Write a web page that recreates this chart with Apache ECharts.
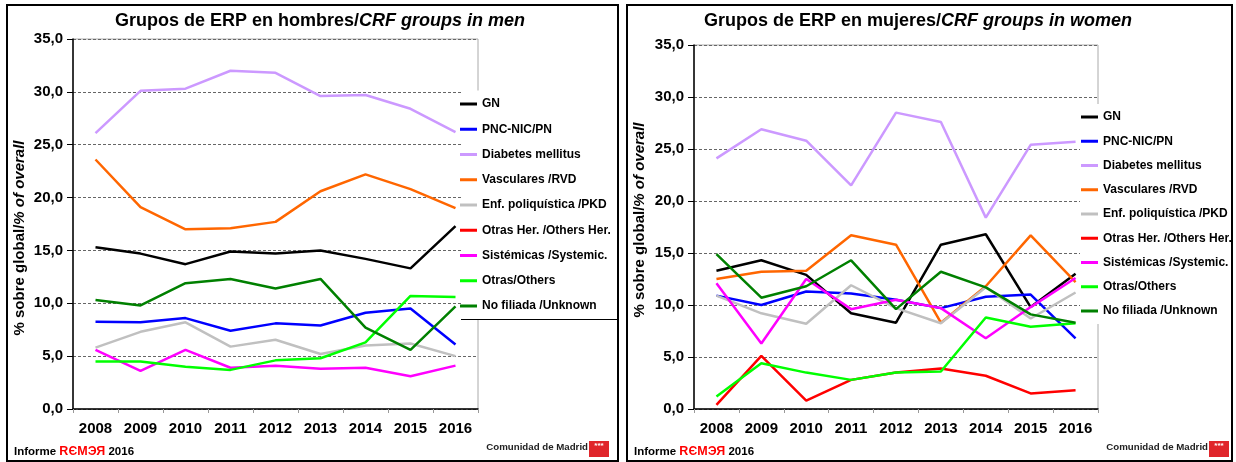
<!DOCTYPE html>
<html>
<head>
<meta charset="utf-8">
<script src="https://cdn.jsdelivr.net/npm/echarts@6/dist/echarts.min.js"></script>
<style>
  html, body { margin: 0; padding: 0; background: #fff; }
  #chart { width: 1236px; height: 462px; }
</style>
</head>
<body>
<div id="chart"></div>
<script>
// categorias (eje X)
const years = ['2008', '2009', '2010', '2011', '2012', '2013', '2014', '2015', '2016'];
const yTicks = [0, 5, 10, 15, 20, 25, 30, 35];

const groupNames = ['GN', 'PNC-NIC/PN', 'Diabetes mellitus', 'Vasculares /RVD', 'Enf. poliquística /PKD',
  'Otras Her. /Others Her.', 'Sistémicas /Systemic.', 'Otras/Others', 'No filiada /Unknown'];
const groupColors = ['#000000', '#0000ff', '#cc99ff', '#ff6600', '#c0c0c0', '#ff0000', '#ff00ff', '#00ff00', '#008000'];

// hombres / men
const menGN = [15.3, 14.7, 13.7, 14.9, 14.7, 15.0, 14.2, 13.3, 17.3];
const menPNC = [8.25, 8.2, 8.6, 7.4, 8.1, 7.9, 9.1, 9.5, 6.1];
const menDiabetes = [26.1, 30.1, 30.3, 32.0, 31.8, 29.6, 29.7, 28.4, 26.2];
const menVasc = [23.6, 19.1, 17.0, 17.1, 17.7, 20.6, 22.2, 20.8, 19.0];
const menPKD = [5.8, 7.3, 8.2, 5.9, 6.55, 5.2, 6.0, 6.2, 5.0];
const menOtrasHer = []; // no se ve en la figura
const menSistemicas = [5.6, 3.6, 5.6, 3.9, 4.1, 3.8, 3.9, 3.1, 4.1];
const menOtras = [4.5, 4.5, 4.0, 3.7, 4.6, 4.8, 6.3, 10.7, 10.6];
const menNoFiliada = [10.3, 9.8, 11.9, 12.3, 11.4, 12.3, 7.7, 5.6, 9.7];

// mujeres / women
const womenGN = [13.3, 14.3, 12.9, 9.2, 8.3, 15.8, 16.8, 9.8, 13.0];
const womenPNC = [10.9, 10.0, 11.3, 11.1, 10.5, 9.7, 10.8, 11.0, 6.8];
const womenDiabetes = [24.1, 26.9, 25.8, 21.5, 28.5, 27.6, 18.4, 25.4, 25.7];
const womenVasc = [12.5, 13.2, 13.3, 16.7, 15.8, 8.3, 11.8, 16.7, 12.2];
const womenPKD = [10.9, 9.2, 8.2, 11.9, 9.7, 8.25, 11.7, 8.7, 11.2];
const womenOtrasHer = [0.4, 5.1, 0.8, 2.8, 3.5, 3.9, 3.2, 1.5, 1.8];
const womenSistemicas = [12.1, 6.3, 12.5, 9.6, 10.5, 9.7, 6.8, 9.8, 12.6];
const womenOtras = [1.2, 4.4, 3.5, 2.8, 3.5, 3.6, 8.8, 7.9, 8.25];
const womenNoFiliada = [14.9, 10.7, 11.8, 14.3, 9.6, 13.2, 11.7, 9.1, 8.3];

const menData = [menGN, menPNC, menDiabetes, menVasc, menPKD, menOtrasHer, menSistemicas, menOtras, menNoFiliada];
const womenData = [womenGN, womenPNC, womenDiabetes, womenVasc, womenPKD, womenOtrasHer, womenSistemicas, womenOtras, womenNoFiliada];

const FONT = 'Arial, "Liberation Sans", sans-serif';

function makeSeries(dataList, idx) {
  return dataList.map((d, i) => ({
    name: groupNames[i],
    type: 'line',
    xAxisIndex: idx,
    yAxisIndex: idx,
    data: d,
    symbol: 'none',
    color: groupColors[i],
    lineStyle: { width: 2.5, color: groupColors[i] },
    emphasis: { disabled: true },
    animation: false
  }));
}

function xAxisCfg(idx) {
  return {
    type: 'category',
    gridIndex: idx,
    data: years,
    boundaryGap: true,
    axisLine: { lineStyle: { color: '#000', width: 1.5 } },
    axisTick: { show: true, interval: 0, length: 4, lineStyle: { color: '#999' } },
    axisLabel: { color: '#000', fontFamily: FONT, fontWeight: 'bold', fontSize: 15, margin: 12 }
  };
}

function yAxisCfg(idx) {
  return {
    type: 'value',
    gridIndex: idx,
    min: 0, max: 35, interval: 5,
    axisLine: { show: true, lineStyle: { color: '#000', width: 1.5 } },
    axisTick: { show: true, length: 6, lineStyle: { color: '#000' } },
    axisLabel: {
      color: '#000', fontFamily: FONT, fontWeight: 'bold', fontSize: 15, margin: 10,
      formatter: v => yTicks.includes(v) ? v.toFixed(1).replace('.', ',') : ''
    },
    splitLine: { show: true, lineStyle: { color: '#666', type: [3, 2], width: 1 } }
  };
}

function legendCfg(left, top, gap) {
  return {
    orient: 'vertical',
    left: left, top: top,
    padding: 0,
    itemGap: gap,
    itemWidth: 17, itemHeight: 3,
    icon: 'rect',
    data: groupNames,
    selectedMode: false,
    z: 10,
    textStyle: { fontFamily: FONT, fontWeight: 'bold', fontSize: 12, color: '#000' }
  };
}

function titleText(x, plain, italic) {
  return {
    type: 'text', x: x, y: 21, z: 20,
    style: {
      text: '{a|' + plain + '}{b|' + italic + '}',
      align: 'center', verticalAlign: 'middle',
      rich: {
        a: { font: 'bold 18px ' + FONT, fill: '#000' },
        b: { font: 'italic bold 18px ' + FONT, fill: '#000' }
      }
    }
  };
}

// titulo del eje Y, girado
function yName(x, y) {
  return {
    type: 'text', x: x, y: y, z: 20, rotation: Math.PI / 2,
    style: {
      text: '{a|% sobre global/}{b|% of overall}',
      align: 'center', verticalAlign: 'middle',
      rich: {
        a: { font: 'bold 15px ' + FONT, fill: '#000' },
        b: { font: 'italic bold 15px ' + FONT, fill: '#000' }
      }
    }
  };
}

function footer(x) {
  return {
    type: 'text', x: x, y: 452, z: 20,
    style: {
      text: '{a|Informe }{r|RЄMЭЯ}{a| 2016}',
      verticalAlign: 'middle',
      rich: {
        a: { font: 'bold 11.5px ' + FONT, fill: '#000' },
        r: { font: 'bold 12.5px ' + FONT, fill: '#ff0000' }
      }
    }
  };
}

function madrid(xRight) {
  return [
    { type: 'text', x: xRight, y: 447, z: 20,
      style: { text: 'Comunidad de Madrid', font: 'bold 9.7px ' + FONT, fill: '#222', align: 'right', verticalAlign: 'middle' } },
    { type: 'rect', shape: { x: xRight + 1, y: 441, width: 20, height: 16 }, z: 20, style: { fill: '#e0262b' } },
    { type: 'text', x: xRight + 11, y: 446, z: 21,
      style: { text: '***', font: 'bold 8px ' + FONT, fill: '#fff', align: 'center', verticalAlign: 'middle' } }
  ];
}

const chart = echarts.init(document.getElementById('chart'));
chart.setOption({
  backgroundColor: '#fff',
  animation: false,
  grid: [
    { left: 73, right: 1236 - 478, top: 39, bottom: 462 - 409, show: true, borderColor: '#aaa', borderWidth: 1, backgroundColor: 'transparent' },
    { left: 694, right: 1236 - 1098, top: 45, bottom: 462 - 409, show: true, borderColor: '#aaa', borderWidth: 1, backgroundColor: 'transparent' }
  ],
  xAxis: [xAxisCfg(0), xAxisCfg(1)],
  yAxis: [yAxisCfg(0), yAxisCfg(1)],
  legend: [legendCfg(460, 98, 13.25), legendCfg(1081, 111, 12.25)],
  series: makeSeries(menData, 0).concat(makeSeries(womenData, 1)),
  graphic: [
    // cajas blancas de la leyenda
    { type: 'rect', shape: { x: 461, y: 90.5, width: 156, height: 229 }, z: 5, style: { fill: '#fff' } },
    { type: 'line', shape: { x1: 461, y1: 319.5, x2: 617, y2: 319.5 }, z: 6, style: { stroke: '#000', lineWidth: 1 } },
    { type: 'rect', shape: { x: 1080, y: 104, width: 151, height: 220 }, z: 5, style: { fill: '#fff' } },
    // marcos de los paneles
    { type: 'rect', shape: { x: 7, y: 5, width: 611, height: 456 }, z: 30, style: { fill: 'none', stroke: '#000', lineWidth: 2 } },
    { type: 'rect', shape: { x: 627, y: 5, width: 605, height: 456 }, z: 30, style: { fill: 'none', stroke: '#000', lineWidth: 2 } },
    titleText(320, 'Grupos de ERP en hombres/', 'CRF groups in men'),
    titleText(918, 'Grupos de ERP en mujeres/', 'CRF groups in women'),
    yName(20, 238), yName(640, 220),
    footer(14), footer(634)
  ].concat(madrid(588), madrid(1208))
});
</script>
</body>
</html>
